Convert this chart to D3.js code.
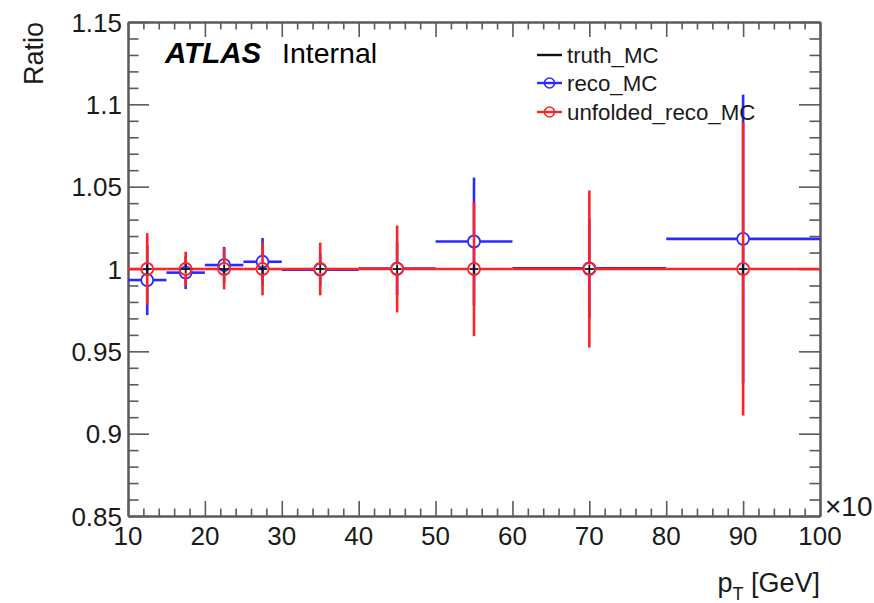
<!DOCTYPE html>
<html>
<head>
<meta charset="utf-8">
<script src="https://cdn.jsdelivr.net/npm/d3@7"></script>
<style>
  html, body { margin: 0; padding: 0; background: #fff; }
  svg { display: block; font-family: "Liberation Sans", Arial, Helvetica, sans-serif; }
</style>
</head>
<body>
<svg id="chart" width="874" height="603"></svg>
<script>
// Bin edges in pT (units of 10 GeV, exponent shown at the axis end)
const binEdges = [10, 15, 20, 25, 30, 40, 50, 60, 80, 100];

// Ratios to truth and their uncertainties, one value per bin
const truthRatio    = [1, 1, 1, 1, 1, 1, 1, 1, 1];
const recoRatio     = [0.9933, 0.9978, 1.0024, 1.0044, 0.9996, 1.0002, 1.0167, 1.0004, 1.0183];
const recoErr       = [0.0213, 0.0100, 0.0110, 0.0144, 0.0100, 0.0160, 0.0388, 0.0300, 0.0876];
const unfoldedRatio = [1, 1, 1, 1, 1, 1, 1, 1, 1];
const unfoldedErr   = [0.0218, 0.0105, 0.0124, 0.0160, 0.0160, 0.0264, 0.0408, 0.0477, 0.0890];

// Axis ticks and labels
const xMajorTicks = [10, 20, 30, 40, 50, 60, 70, 80, 90, 100];
const xTickLabels = ["10", "20", "30", "40", "50", "60", "70", "80", "90", "100"];
const yMajorTicks = [0.85, 0.9, 0.95, 1, 1.05, 1.1, 1.15];
const yTickLabels = ["0.85", "0.9", "0.95", "1", "1.05", "1.1", "1.15"];

const legendEntries = [
  { label: "truth_MC", key: "truth" },
  { label: "reco_MC", key: "reco" },
  { label: "unfolded_reco_MC", key: "unfolded" }
];

const colors = { truth: "#111111", reco: "#2a2aff", unfolded: "#ff2222" };
const axisColor = "#5a5a5a";
const textColor = "#1a1a1a";

const frame = { left: 128, right: 820, top: 22, bottom: 516 };
const svg = d3.select("#chart");

const x = d3.scaleLinear().domain([10, 100]).range([frame.left, frame.right]);
const y = d3.scaleLinear().domain([0.85, 1.15]).range([frame.bottom, frame.top]);

const xMinor = d3.range(10, 100.001, 2).filter(v => Math.abs(v % 10) > 1e-6);
const yMinor = d3.range(0, 31).map(i => 0.85 + i * 0.01)
  .filter(v => yMajorTicks.every(t => Math.abs(t - v) > 1e-6));

// ---- frame with inward ticks on all four sides ----
function styleAxis(g) {
  g.selectAll("path.domain").attr("stroke", axisColor).attr("stroke-width", 2);
  g.selectAll(".tick line").attr("stroke", axisColor).attr("stroke-width", 1.6);
  g.selectAll(".tick text").remove();
}
function drawAxis(axisFn, transform, scale, values, size) {
  svg.append("g").attr("transform", transform)
    .call(axisFn(scale).tickValues(values).tickSizeInner(-size).tickSizeOuter(0).tickFormat(""))
    .call(styleAxis);
}
drawAxis(d3.axisBottom, `translate(0,${frame.bottom})`, x, xMajorTicks, 15);
drawAxis(d3.axisBottom, `translate(0,${frame.bottom})`, x, xMinor, 7.5);
drawAxis(d3.axisTop, `translate(0,${frame.top})`, x, xMajorTicks, 15);
drawAxis(d3.axisTop, `translate(0,${frame.top})`, x, xMinor, 7.5);
drawAxis(d3.axisLeft, `translate(${frame.left},0)`, y, yMajorTicks, 21);
drawAxis(d3.axisLeft, `translate(${frame.left},0)`, y, yMinor, 10.5);
drawAxis(d3.axisRight, `translate(${frame.right},0)`, y, yMajorTicks, 21);
drawAxis(d3.axisRight, `translate(${frame.right},0)`, y, yMinor, 10.5);

// ---- tick labels ----
svg.append("g").selectAll("text").data(xMajorTicks).join("text")
  .attr("x", d => x(d)).attr("y", 545)
  .attr("text-anchor", "middle").attr("font-size", 26).attr("fill", textColor)
  .text((d, i) => xTickLabels[i]);

svg.append("g").selectAll("text").data(yMajorTicks).join("text")
  .attr("x", frame.left - 6).attr("y", d => y(d) + 9.5)
  .attr("text-anchor", "end").attr("font-size", 26).attr("fill", textColor)
  .text((d, i) => yTickLabels[i]);

// axis exponent, running off the right edge of the canvas
svg.append("text").attr("x", 825).attr("y", 516)
  .attr("font-size", 28).attr("fill", textColor).text("\u00d710");

// ---- axis titles ----
svg.append("text")
  .attr("transform", `translate(43,${frame.top}) rotate(-90)`)
  .attr("text-anchor", "end").attr("font-size", 27).attr("fill", textColor)
  .text("Ratio");

const xTitle = svg.append("text")
  .attr("x", frame.right).attr("y", 592)
  .attr("text-anchor", "end").attr("font-size", 27).attr("fill", textColor);
xTitle.append("tspan").text("p");
xTitle.append("tspan").attr("font-size", 18).attr("dy", 8).text("T");
xTitle.append("tspan").attr("dy", -8).text(" [GeV]");

// ---- ATLAS label ----
const atlas = svg.append("text").attr("x", 165).attr("y", 63).attr("fill", "#000");
atlas.append("tspan").attr("font-size", 29.5)
  .attr("font-weight", "bold").attr("font-style", "italic").text("ATLAS");
atlas.append("tspan").attr("x", 282).attr("font-size", 28.5).text("Internal");

// ---- data ----
const bins = d3.range(binEdges.length - 1).map(i => ({
  lo: binEdges[i], hi: binEdges[i + 1], c: (binEdges[i] + binEdges[i + 1]) / 2
}));

const plot = svg.append("g");
const R = 6;

function drawSeries(values, errs, color) {
  const g = plot.append("g");
  const pts = bins.map((b, i) => ({ ...b, v: values[i], e: errs[i] }));
  // horizontal bars (bin width), split around the marker
  g.selectAll("line.hl").data(pts).join("line")
    .attr("x1", d => x(d.lo)).attr("x2", d => x(d.c) - R)
    .attr("y1", d => y(d.v)).attr("y2", d => y(d.v))
    .attr("stroke", color).attr("stroke-width", 2.6);
  g.selectAll("line.hr").data(pts).join("line")
    .attr("x1", d => x(d.c) + R).attr("x2", d => x(d.hi))
    .attr("y1", d => y(d.v)).attr("y2", d => y(d.v))
    .attr("stroke", color).attr("stroke-width", 2.6);
  // vertical error bars, split around the marker
  g.selectAll("line.vu").data(pts).join("line")
    .attr("x1", d => x(d.c)).attr("x2", d => x(d.c))
    .attr("y1", d => y(d.v + d.e)).attr("y2", d => Math.max(y(d.v + d.e), y(d.v) - R))
    .attr("stroke", color).attr("stroke-width", 2.6);
  g.selectAll("line.vd").data(pts).join("line")
    .attr("x1", d => x(d.c)).attr("x2", d => x(d.c))
    .attr("y1", d => Math.min(y(d.v - d.e), y(d.v) + R)).attr("y2", d => y(d.v - d.e))
    .attr("stroke", color).attr("stroke-width", 2.6);
  // open circle markers
  g.selectAll("circle").data(pts).join("circle")
    .attr("cx", d => x(d.c)).attr("cy", d => y(d.v)).attr("r", R)
    .attr("fill", "none").attr("stroke", color).attr("stroke-width", 1.8);
}

drawSeries(recoRatio, recoErr, colors.reco);
drawSeries(unfoldedRatio, unfoldedErr, colors.unfolded);

// truth: "+" markers
const truthPts = bins.map((b, i) => ({ c: b.c, v: truthRatio[i] }));
const tg = plot.append("g").attr("stroke", colors.truth).attr("stroke-width", 1.8);
tg.selectAll("line.th").data(truthPts).join("line")
  .attr("x1", d => x(d.c) - 4.5).attr("x2", d => x(d.c) + 4.5)
  .attr("y1", d => y(d.v)).attr("y2", d => y(d.v));
tg.selectAll("line.tv").data(truthPts).join("line")
  .attr("x1", d => x(d.c)).attr("x2", d => x(d.c))
  .attr("y1", d => y(d.v) - 4.5).attr("y2", d => y(d.v) + 4.5);

// ---- legend ----
const leg = svg.append("g");
const legY = [55, 83, 112];
legendEntries.forEach((e, i) => {
  const row = leg.append("g").attr("transform", `translate(0,${legY[i]})`);
  row.append("line").attr("x1", 537).attr("x2", 562).attr("y1", 0).attr("y2", 0)
    .attr("stroke", colors[e.key]).attr("stroke-width", 2.4);
  if (e.key !== "truth") {
    row.append("circle").attr("cx", 549.5).attr("cy", 0).attr("r", 5)
      .attr("fill", "none").attr("stroke", colors[e.key]).attr("stroke-width", 1.6);
  }
  row.append("text").attr("x", 567).attr("y", 8)
    .attr("font-size", 22.3).attr("fill", textColor).text(e.label);
});
</script>
</body>
</html>
